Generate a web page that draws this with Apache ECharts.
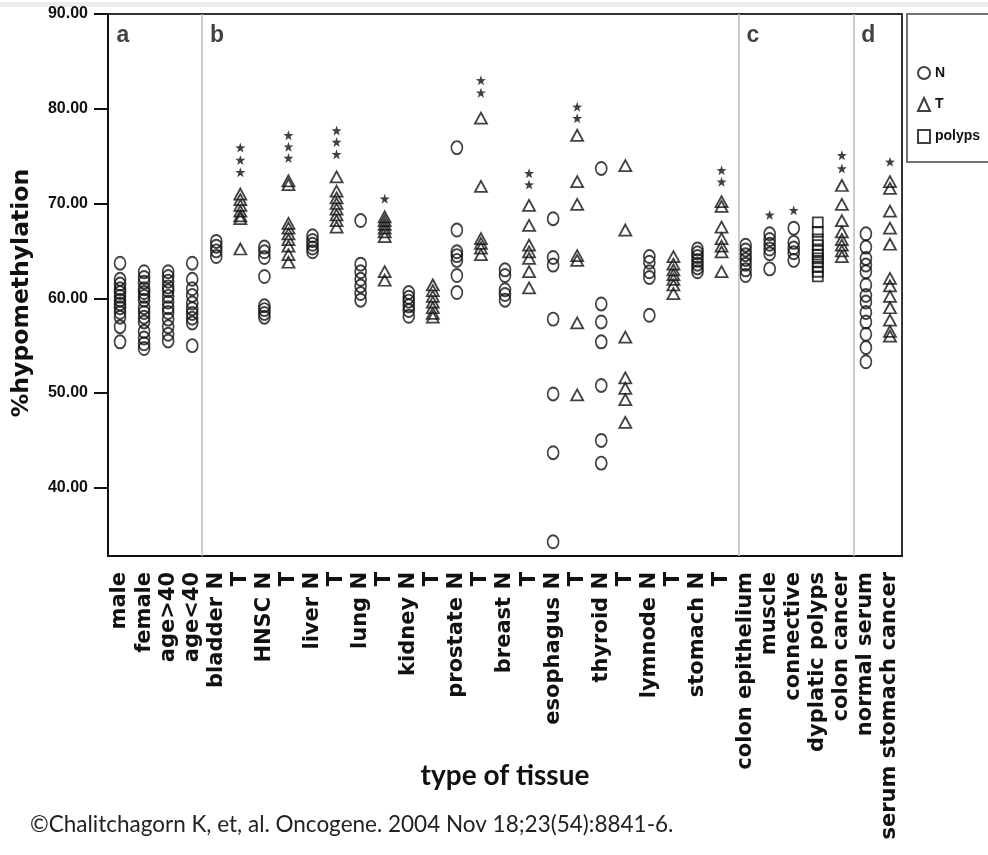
<!DOCTYPE html>
<html>
<head>
<meta charset="utf-8">
<script src="https://cdn.jsdelivr.net/npm/echarts@6/dist/echarts.min.js"></script>
<style>
html,body{margin:0;padding:0;background:#fff;}
#chart{width:988px;height:855px;}
</style>
</head>
<body>
<div id="chart"></div>
<script>
// ---- categories / tick labels ----
const categories = ['male','female','age>40','age<40',
  'bladder N','T','HNSC N','T','liver N','T','lung N','T','kidney N','T',
  'prostate N','T','breast N','T','esophagus N','T','thyroid N','T',
  'lymnode N','T','stomach N','T',
  'colon epithelium','muscle','connective','dyplatic polyps','colon cancer',
  'normal serum','serum stomach cancer'];
const yTicks = [40, 50, 60, 70, 80, 90];
const legendNames = ['N', 'T', 'polyps'];
const panelNames = ['a', 'b', 'c', 'd'];

// ---- values (% hypomethylation) ----
const male        = [63.7, 62.0, 61.5, 61.0, 60.6, 60.2, 59.8, 59.4, 59.0, 58.5, 58.0, 57.0, 55.4];
const female      = [62.8, 62.2, 61.7, 61.0, 60.6, 60.2, 59.8, 59.0, 58.5, 58.0, 57.5, 56.5, 55.8, 55.2, 54.7];
const ageOver40   = [62.8, 62.3, 61.8, 61.2, 60.8, 60.2, 59.6, 59.0, 58.5, 57.8, 57.0, 56.2, 55.5];
const ageUnder40  = [63.7, 62.0, 61.0, 60.3, 59.5, 58.9, 58.4, 57.9, 57.4, 55.0];
const bladderN    = [66.0, 65.5, 65.0, 64.4];
const bladderT    = [71.0, 70.4, 69.8, 69.2, 68.7, 68.4, 65.2];
const hnscN       = [65.4, 64.9, 64.3, 62.3, 59.2, 58.8, 58.4, 58.0];
const hnscT       = [72.4, 72.0, 67.9, 67.4, 66.8, 66.2, 65.5, 64.6, 63.8];
const liverN      = [66.6, 66.1, 65.7, 65.3, 64.9];
const liverT      = [72.8, 71.3, 70.6, 70.0, 69.4, 68.8, 68.2, 67.5];
const lungN       = [68.2, 63.6, 62.8, 62.0, 61.3, 60.5, 59.8];
const lungT       = [68.6, 68.2, 67.8, 67.4, 67.0, 66.5, 62.8, 61.9];
const kidneyN     = [60.6, 60.1, 59.7, 59.2, 58.7, 58.1];
const kidneyT     = [61.4, 60.8, 60.2, 59.6, 59.0, 58.4, 58.0];
const prostateN   = [75.9, 67.2, 64.9, 64.5, 64.0, 62.4, 60.6];
const prostateT   = [79.0, 71.8, 66.3, 65.8, 65.3, 64.6];
const breastN     = [63.0, 62.4, 60.9, 60.4, 59.8];
const breastT     = [69.8, 67.7, 65.6, 64.9, 64.2, 62.8, 61.1];
const esophagusN  = [68.4, 64.3, 63.5, 57.8, 49.9, 43.7, 34.3];
const esophagusT  = [77.2, 72.3, 69.9, 64.5, 64.0, 57.4, 49.8];
const thyroidN    = [73.7, 59.4, 57.5, 55.4, 50.8, 45.0, 42.6];
const thyroidT    = [74.0, 67.2, 55.9, 51.6, 50.5, 49.3, 46.9];
const lymnodeN    = [64.4, 63.8, 62.8, 62.2, 58.2];
const lymnodeT    = [64.4, 63.6, 63.0, 62.5, 62.0, 61.4, 60.5];
const stomachN    = [65.2, 64.8, 64.4, 64.0, 63.6, 63.2, 62.8];
const stomachT    = [70.2, 69.7, 67.5, 66.3, 65.5, 64.9, 62.8];
const colonEpith  = [65.6, 65.1, 64.6, 64.1, 63.6, 63.0, 62.4];
const muscle      = [66.8, 66.2, 65.7, 65.2, 64.7, 63.1];
const connective  = [67.4, 65.9, 65.3, 64.8, 64.0];
const polyps      = [68.0, 67.0, 66.2, 65.6, 65.0, 64.6, 64.2, 63.8, 63.3, 62.8, 62.3];
const colonCancer = [71.9, 69.9, 68.2, 67.0, 66.2, 65.6, 65.0, 64.4];
const normalSerum = [66.8, 65.4, 64.2, 63.5, 62.8, 61.4, 60.3, 59.6, 58.5, 57.5, 56.2, 54.8, 53.3];
const serumStomachCancer = [72.3, 71.6, 69.2, 67.4, 65.7, 62.1, 61.3, 60.2, 59.0, 57.7, 56.5, 56.0];

// significance stars: [category index, value]
const stars = [
  [5, 75.9], [5, 74.6], [5, 73.3],
  [7, 77.2], [7, 76.0], [7, 74.8],
  [9, 77.7], [9, 76.5], [9, 75.2],
  [11, 70.5],
  [15, 83.0], [15, 81.7],
  [17, 73.2], [17, 72.0],
  [19, 80.2], [19, 79.0],
  [25, 73.5], [25, 72.3],
  [27, 68.8],
  [28, 69.3],
  [30, 75.1], [30, 73.7],
  [32, 74.4]
];

// ---- grouping by marker type (category index, values) ----
const groupsN = [[0, male], [1, female], [2, ageOver40], [3, ageUnder40],
  [4, bladderN], [6, hnscN], [8, liverN], [10, lungN], [12, kidneyN], [14, prostateN],
  [16, breastN], [18, esophagusN], [20, thyroidN], [22, lymnodeN], [24, stomachN],
  [26, colonEpith], [27, muscle], [28, connective], [31, normalSerum]];
const groupsT = [[5, bladderT], [7, hnscT], [9, liverT], [11, lungT], [13, kidneyT],
  [15, prostateT], [17, breastT], [19, esophagusT], [21, thyroidT], [23, lymnodeT],
  [25, stomachT], [30, colonCancer], [32, serumStomachCancer]];
const groupsP = [[29, polyps]];

// panel separators and panel letters (positions on a hidden linear x axis, in category units)
const panelBreaks = [3.4, 25.7, 30.5];
const panelLabelX = [0.12, 4.03, 26.3, 31.1];

function flatten(groups) {
  const out = [];
  groups.forEach(g => g[1].forEach(v => out.push([g[0], v])));
  return out;
}

const hollow = { color: 'rgba(0,0,0,0)', borderColor: '#111', borderWidth: 1.8 };
const starPath = 'path://M0,-10L2.35,-3.24L9.51,-3.09L3.8,1.24L5.88,8.09L0,4L-5.88,8.09L-3.8,1.24L-9.51,-3.09L-2.35,-3.24Z';

const chart = echarts.init(document.getElementById('chart'), null, { renderer: 'canvas' });
chart.setOption({
  animation: false,
  backgroundColor: '#fff',
  grid: { left: 108, right: 86, top: 14, bottom: 299, show: true, borderColor: '#333', borderWidth: 2,
    containLabel: false, outerBoundsMode: 'none' },
  legend: {
    data: legendNames,
    orient: 'vertical',
    left: 907, top: 14,
    padding: [52, 40, 18, 10],
    itemGap: 17,
    itemWidth: 12, itemHeight: 13,
    borderColor: '#444', borderWidth: 1.5,
    textStyle: { fontFamily: 'Liberation Sans', fontWeight: 'bold', fontSize: 14, color: '#111' }
  },
  xAxis: [{
    type: 'category',
    data: categories,
    boundaryGap: true,
    axisLine: { lineStyle: { color: '#111', width: 2 } },
    axisTick: { alignWithLabel: true, length: 8, lineStyle: { color: '#111', width: 1.5 } },
    axisLabel: { rotate: 90, interval: 0, margin: 16, color: '#111',
      fontFamily: 'DejaVu Sans', fontWeight: 'bold', fontSize: 21 },
    name: 'type of tissue',
    nameLocation: 'middle',
    nameGap: 206,
    nameMoveOverlap: false,
    nameTextStyle: { fontFamily: 'Lato', fontWeight: 'bold', fontSize: 28, color: '#111', verticalAlign: 'top' }
  }, {
    type: 'value', min: -0.5, max: 32.5, show: false
  }],
  yAxis: {
    type: 'value', min: 32.8, max: 90,
    axisLine: { show: true, onZero: false, lineStyle: { color: '#111', width: 2 } },
    axisTick: { show: true, length: 14, customValues: yTicks, lineStyle: { color: '#111', width: 2 } },
    axisLabel: { customValues: yTicks, margin: 20, color: '#111', fontFamily: 'Liberation Sans',
      fontWeight: 'bold', fontSize: 16, formatter: v => Number(v).toFixed(2) },
    splitLine: { show: false },
    name: '%hypomethylation',
    nameLocation: 'middle',
    nameGap: 74,
    nameMoveOverlap: false,
    nameTextStyle: { fontFamily: 'DejaVu Sans', fontWeight: 'bold', fontSize: 23.5, color: '#111',
      padding: [0, 16, 0, 0] }
  },
  series: [
    { name: 'N', type: 'scatter', symbol: 'circle', symbolSize: [11, 13],
      itemStyle: hollow, data: flatten(groupsN), z: 3 },
    { name: 'T', type: 'scatter', symbol: 'triangle', symbolSize: [12, 11],
      itemStyle: hollow, data: flatten(groupsT), z: 3 },
    { name: 'polyps', type: 'scatter', symbol: 'rect', symbolSize: [10, 10],
      itemStyle: hollow, data: flatten(groupsP), z: 3 },
    { name: 'sig', type: 'scatter', symbol: starPath, symbolSize: 10,
      itemStyle: { color: '#111' }, data: stars, z: 3 },
    { name: 'panels', type: 'scatter', xAxisIndex: 1, symbolSize: 0, silent: true,
      data: panelLabelX.map((x, i) => [x, 86.5, panelNames[i]]),
      label: { show: true, position: 'inside', verticalAlign: 'bottom', align: 'center',
        formatter: p => p.value[2], color: '#111', fontFamily: 'Liberation Sans', fontWeight: 'bold', fontSize: 23 },
      markLine: { silent: true, symbol: 'none', label: { show: false },
        lineStyle: { color: '#bdbdbd', width: 1.5, type: 'solid' },
        data: panelBreaks.map(x => ({ xAxis: x })) },
      z: 2 }
  ],
  graphic: [
    { type: 'rect', shape: { x: 0, y: 2, width: 988, height: 5 }, style: { fill: '#ececec' }, silent: true },
    { type: 'text', left: 30, top: 813, style: {
      text: '©Chalitchagorn K, et, al. Oncogene. 2004 Nov 18;23(54):8841-6.',
      fontFamily: 'Lato', fontSize: 22.5, fill: '#222' } }
  ]
});
</script>
</body>
</html>
